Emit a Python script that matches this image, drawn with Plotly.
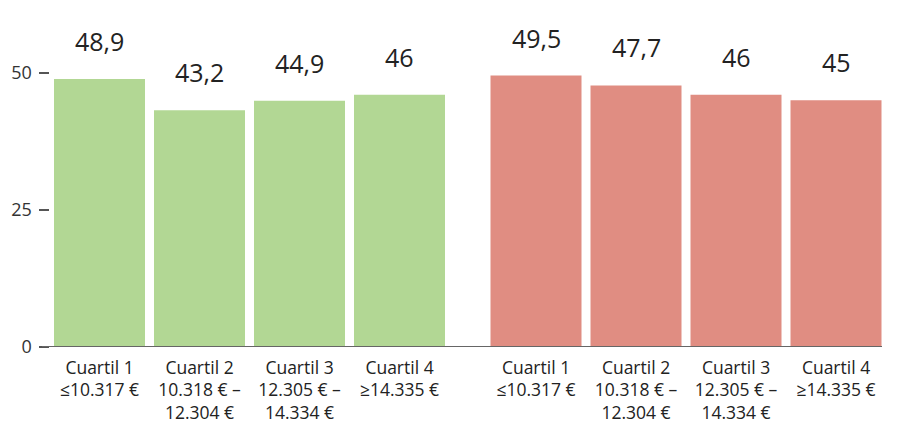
import plotly.graph_objects as go

categories = [
    "Cuartil 1<br>≤10.317 €",
    "Cuartil 2<br>10.318 € –<br>12.304 €",
    "Cuartil 3<br>12.305 € –<br>14.334 €",
    "Cuartil 4<br>≥14.335 €",
]
green_values = [48.9, 43.2, 44.9, 46]
red_values = [49.5, 47.7, 46, 45]
green_labels = ["48,9", "43,2", "44,9", "46"]
red_labels = ["49,5", "47,7", "46", "45"]
y_ticks = [0, 25, 50]

GREEN = "#b2d794"
RED = "#e08d82"
FONT = "Open Sans"

fig = go.Figure()
fig.add_trace(go.Bar(x=categories, y=green_values, marker_color=GREEN,
                     marker_line_width=0, xaxis="x", yaxis="y", hoverinfo="skip"))
fig.add_trace(go.Bar(x=categories, y=red_values, marker_color=RED,
                     marker_line_width=0, xaxis="x2", yaxis="y", hoverinfo="skip"))

annotations = []
for xr, vals, labs in (("x", green_values, green_labels), ("x2", red_values, red_labels)):
    for c, v, t in zip(categories, vals, labs):
        annotations.append(dict(x=c, y=v, xref=xr, yref="y", text=t, showarrow=False,
                                yanchor="bottom", yshift=19,
                                font=dict(family=FONT, size=25, color="#222222")))

L, R = 44, 12
W = 898
pw = W - L - R
tickfont_x = dict(family=FONT, size=17.5, color="#222222")
fig.update_layout(
    width=898, height=428,
    margin=dict(l=L, r=R, t=29, b=81, autoexpand=False),
    paper_bgcolor="white", plot_bgcolor="white",
    showlegend=False, bargap=0.09,
    annotations=annotations,
    xaxis=dict(domain=[(49.5 - L) / pw, (449.5 - L) / pw], type="category",
               showline=False, showgrid=False, ticks="", zeroline=False,
               automargin=False, tickfont=tickfont_x, ticklabelstandoff=8),
    xaxis2=dict(domain=[(486 - L) / pw, (886 - L) / pw], type="category",
                anchor="y", showline=False, showgrid=False, ticks="", zeroline=False,
                automargin=False, tickfont=tickfont_x, ticklabelstandoff=8),
    yaxis=dict(range=[0, 58], tickvals=y_ticks, showgrid=False, zeroline=False,
               showline=False, ticks="outside", ticklen=10, tickwidth=1.5,
               tickcolor="#555555", automargin=False, ticklabelstandoff=3,
               tickfont=dict(family=FONT, size=18, color="#333333")),
    shapes=[dict(type="line", xref="paper", yref="y", x0=(42 - L) / pw, x1=(882 - L) / pw,
                 y0=0, y1=0, line=dict(color="#666666", width=2))],
)

fig.write_html("out.html", config={"displayModeBar": False},
               post_script="document.body.style.margin='0';document.body.style.overflow='hidden';")
